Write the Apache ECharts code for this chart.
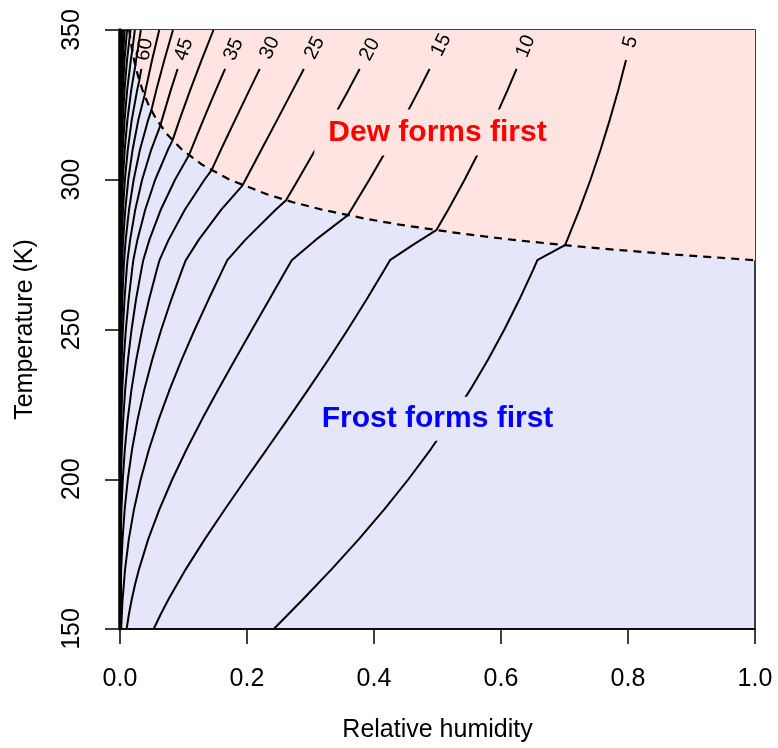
<!DOCTYPE html>
<html><head><meta charset="utf-8">
<script src="https://cdn.jsdelivr.net/npm/echarts@6/dist/echarts.min.js"></script>
<style>html,body{margin:0;padding:0;background:#fff}#c{width:778px;height:748px}</style>
</head><body><div id="c"></div>
<script>
// ---- data: [relative humidity, temperature K] ----
const xTicks = [0, 0.2, 0.4, 0.6, 0.8, 1.0];
const yTicks = [150, 200, 250, 300, 350];

const line05 = [[0.2422,150],[0.2886,160],[0.3334,170],[0.3762,180],[0.4165,190],[0.4542,200],[0.4893,210],[0.5219,220],[0.5519,230],[0.5797,240],[0.6053,250],[0.6289,260],[0.6508,270],[0.6573,273.15],[0.6731,275],[0.7008,278.15],[0.7045,280],[0.7235,290],[0.7409,300],[0.7568,310],[0.7713,320],[0.7847,330],[0.7969,340]];
const line10 = [[0.0530,150],[0.0643,155],[0.0766,160],[0.1037,170],[0.1336,180],[0.1652,190],[0.1978,200],[0.2310,210],[0.2640,220],[0.2965,230],[0.3282,240],[0.3588,250],[0.3883,260],[0.4166,270],[0.4252,273.15],[0.4607,278.15],[0.4981,283.15],[0.5168,290],[0.5427,300],[0.5668,310],[0.5894,320],[0.6105,330],[0.6245,337]];
const line15 = [[0.0104,150],[0.0141,155],[0.0186,160],[0.0239,165],[0.0300,170],[0.0445,180],[0.0622,190],[0.0824,200],[0.1049,210],[0.1292,220],[0.1547,230],[0.1812,240],[0.2080,250],[0.2351,260],[0.2620,270],[0.2705,273.15],[0.3086,280],[0.3587,288.15],[0.3641,290],[0.3926,300],[0.4200,310],[0.4461,320],[0.4709,330],[0.4875,337]];
const line20 = [[0.0018,150],[0.0041,160],[0.0080,170],[0.0139,180],[0.0221,190],[0.0327,200],[0.0457,210],[0.0610,220],[0.0783,230],[0.0973,240],[0.1177,250],[0.1394,260],[0.1618,270],[0.1690,273.15],[0.1976,280],[0.2451,290],[0.2615,293.15],[0.2804,300],[0.3076,310],[0.3341,320],[0.3599,330],[0.3774,337]];
const line25 = [[0.0003,150],[0.0019,170],[0.0040,180],[0.0074,190],[0.0123,200],[0.0190,210],[0.0277,220],[0.0383,230],[0.0508,240],[0.0650,250],[0.0808,260],[0.0979,270],[0.1036,273.15],[0.1242,280],[0.1595,290],[0.1930,298.15],[0.1976,300],[0.2226,310],[0.2475,320],[0.2723,330],[0.2895,337]];
const line30 = [[0.0000,150],[0.0004,170],[0.0011,180],[0.0023,190],[0.0044,200],[0.0076,210],[0.0121,220],[0.0181,230],[0.0257,240],[0.0349,250],[0.0457,260],[0.0581,270],[0.0622,273.15],[0.0767,280],[0.1021,290],[0.1330,300],[0.1440,303.15],[0.1589,310],[0.1813,320],[0.2040,330],[0.2200,337]];
const line35 = [[0.0000,150],[0.0007,190],[0.0015,200],[0.0028,210],[0.0050,220],[0.0082,230],[0.0126,240],[0.0182,250],[0.0252,260],[0.0337,270],[0.0366,273.15],[0.0464,280],[0.0642,290],[0.0866,300],[0.1085,308.15],[0.1120,310],[0.1312,320],[0.1511,330],[0.1655,337]];
const line40 = [[0.0000,150],[0.0005,200],[0.0010,210],[0.0020,220],[0.0036,230],[0.0059,240],[0.0092,250],[0.0136,260],[0.0191,270],[0.0210,273.15],[0.0275,280],[0.0397,290],[0.0554,300],[0.0754,310],[0.0827,313.15],[0.0937,320],[0.1107,330],[0.1286,340],[0.1472,350]];
const line45 = [[0.0000,150],[0.0003,210],[0.0008,220],[0.0015,230],[0.0027,240],[0.0045,250],[0.0071,260],[0.0105,270],[0.0118,273.15],[0.0160,280],[0.0240,290],[0.0348,300],[0.0491,310],[0.0636,318.15],[0.0660,320],[0.0801,330],[0.0907,337]];
const line50 = [[0.0000,150],[0.0003,220],[0.0006,230],[0.0012,240],[0.0021,250],[0.0036,260],[0.0057,270],[0.0065,273.15],[0.0090,280],[0.0142,290],[0.0215,300],[0.0314,310],[0.0444,320],[0.0493,323.15],[0.0572,330],[0.0698,340],[0.0834,350]];
const line55 = [[0.0000,150],[0.0002,230],[0.0005,240],[0.0010,250],[0.0018,260],[0.0030,270],[0.0034,273.15],[0.0050,280],[0.0083,290],[0.0130,300],[0.0198,310],[0.0289,320],[0.0386,328.15],[0.0403,330],[0.0505,340],[0.0618,350]];
const line60 = [[0.0000,150],[0.0002,240],[0.0004,250],[0.0008,260],[0.0015,270],[0.0027,280],[0.0047,290],[0.0077,300],[0.0122,310],[0.0185,320],[0.0271,330],[0.0304,333.15],[0.0336,337]];
const line65 = [[0.0000,150],[0.0002,250],[0.0004,260],[0.0009,273.15],[0.0026,290],[0.0045,300],[0.0074,310],[0.0116,320],[0.0177,330],[0.0242,338.15],[0.0254,340],[0.0328,350]];
const line70 = [[0.0000,150],[0.0004,273.15],[0.0014,290],[0.0025,300],[0.0044,310],[0.0072,320],[0.0113,330],[0.0171,340],[0.0193,343.15],[0.0234,350]];
const line75 = [[0.0000,150],[0.0004,280],[0.0007,290],[0.0014,300],[0.0025,310],[0.0044,320],[0.0071,330],[0.0111,340],[0.0165,350]];
const line80 = [[0.0000,150],[0.0008,300],[0.0014,310],[0.0026,320],[0.0044,330],[0.0071,340],[0.0111,350]];
const line85 = [[0.0000,150],[0.0008,310],[0.0015,320],[0.0027,330],[0.0045,340],[0.0072,350]];
const line90 = [[0.0000,150],[0.0009,320],[0.0016,330],[0.0028,340],[0.0046,350]];
const line95 = [[0.0000,150],[0.0009,330],[0.0017,340],[0.0029,350]];
const line100 = [[0.0000,150],[0.0010,340],[0.0018,350]];

const contourLevels = [5,10,15,20,25,30,35,40,45,50,55,60,65,70,75,80,85,90,95,100];
const contourLines = [line05,line10,line15,line20,line25,line30,line35,line40,line45,line50,line55,line60,line65,line70,line75,line80,line85,line90,line95,line100];

// contour labels: [RH, T, level]
const contourLabels = [[0.804,346,5],[0.639,344.5,10],[0.506,345,15],[0.3935,343.5,20],[0.3065,344,25],[0.2359,344,30],[0.179,343.5,35],[0.1008,343.5,45],[0.0392,343.5,60]];

// dew / frost boundary (dew point = 273.15 K)
const boundary = [[0.0144,350],[0.0178,345],[0.0222,340],[0.0279,335],[0.0353,330],[0.0449,325],[0.0578,320],[0.0749,315],[0.0980,310],[0.1295,305],[0.1729,300],[0.2334,295],[0.2723,292.5],[0.3187,290],[0.3864,287],[0.4404,285],[0.5381,282],[0.6166,280],[0.7008,278.15],[0.7596,277],[0.8753,275],[1.0,273.15]];

const regionTexts = [[0.5,315.8,'Dew forms first'],[0.5,220.2,'Frost forms first']];
</script>
<script>
const FONT = "'Liberation Sans', Arial, Helvetica, sans-serif";
const chart = echarts.init(document.getElementById('c'), null, {renderer:'canvas'});

function buildOption(rots){
  const series = [];
  series.push({type:'line', data:boundary, symbol:'none', silent:true, z:1,
    lineStyle:{width:0, opacity:0}, areaStyle:{color:'#FFE4E1', opacity:1, origin:'end'}});
  contourLines.forEach((d,i)=>series.push({type:'line', data:d, symbol:'none', silent:true, z:2,
    lineStyle:{color:'#000', width:2}}));
  series.push({type:'line', data:boundary, symbol:'none', silent:true, z:3,
    lineStyle:{color:'#000', width:2.2, type:[8,6]}});
  series.push({type:'scatter', symbolSize:0, silent:true, z:4, itemStyle:{opacity:1},
    data: contourLabels.map((c,i)=>({value:[c[0],c[1]], name:String(c[2]),
      label:{rotate: rots ? rots[i] : 60}})),
    label:{show:true, position:'inside', formatter:'{b}', color:'#000', fontSize:20, fontFamily:FONT}});
  series.push({type:'scatter', symbolSize:0, silent:true, z:5, itemStyle:{opacity:1},
    data: regionTexts.map((r,i)=>({value:[r[0],r[1]], name:r[2],
      label: i===0 ? {color:'#FF0000', backgroundColor:'#FFE4E1', padding:[8,14]}
                   : {color:'#0000FF', backgroundColor:'#E6E6FA', padding:[7,12]}})),
    label:{show:true, position:'inside', formatter:'{b}', fontSize:30, fontWeight:'bold', fontFamily:FONT}});
  return {
    animation:false,
    grid:{left:120, right:23, top:30, bottom:116, show:true, backgroundColor:'#E6E6FA', borderColor:'#000', borderWidth:1.5},
    xAxis:{type:'value', min:0, max:1, interval:0.2,
      name:'Relative humidity', nameLocation:'middle', nameGap:89,
      nameTextStyle:{fontSize:25, color:'#000', fontFamily:FONT},
      axisLine:{show:true, lineStyle:{color:'#000', width:1.5}},
      axisTick:{show:true, inside:false, length:15, lineStyle:{color:'#000', width:1.5}},
      axisLabel:{fontSize:25, color:'#000', fontFamily:FONT, margin:38, formatter:v=>v.toFixed(1)},
      splitLine:{show:false}},
    yAxis:{type:'value', min:150, max:350, interval:50,
      name:'Temperature (K)', nameLocation:'middle', nameGap:82,
      nameTextStyle:{fontSize:25, color:'#000', fontFamily:FONT},
      axisLine:{show:true, lineStyle:{color:'#000', width:3.5}},
      axisTick:{show:true, inside:false, length:15, lineStyle:{color:'#000', width:1.5}},
      axisLabel:{fontSize:25, color:'#000', fontFamily:FONT, rotate:90, margin:35},
      splitLine:{show:false}},
    series
  };
}
chart.setOption(buildOption(null));
const rots = contourLabels.map(c=>{
  const line = contourLines[contourLevels.indexOf(c[2])];
  const a = chart.convertToPixel({gridIndex:0}, line[line.length-1]);
  const b = chart.convertToPixel({gridIndex:0}, [c[0],c[1]]);
  return Math.atan2(a[1]-b[1], b[0]-a[0])*180/Math.PI;
});
chart.setOption(buildOption(rots));
</script></body></html>
